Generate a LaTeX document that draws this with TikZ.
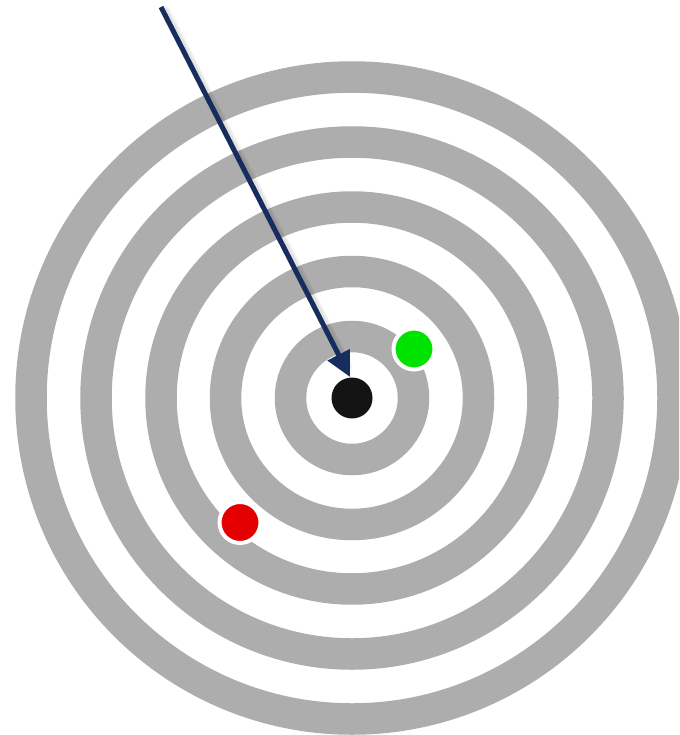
\documentclass[tikz,border=0pt]{standalone}
\usetikzlibrary{arrows.meta}
\definecolor{ringgray}{RGB}{173,173,173}
\definecolor{navy}{RGB}{22,45,94}
\definecolor{dotgreen}{RGB}{0,226,0}
\definecolor{dotred}{RGB}{228,0,0}
\definecolor{dotblack}{RGB}{20,20,20}
\tikzset{
  ring/.style={draw=ringgray, line width=31.5pt},
  dot/.style={circle, inner sep=0pt, minimum size=41pt, draw=white, line width=4pt},
  arrowline/.style={draw=navy, line width=5pt, -{Triangle[length=25pt,width=24pt]}},
  arrowshadow/.style={draw=black, opacity=0.06, line width=#1, line cap=round}
}
\begin{document}
\begin{tikzpicture}[x=1pt,y=-1pt]
\useasboundingbox (0,0) rectangle (679,735);
\clip (0,0) rectangle (679,735);
\coordinate (c) at (352,398);
\foreach \r in {321,256,191,126.5,61.5} {
  \draw[ring] (c) circle[radius=\r];
}
\node[dot, fill=dotgreen] (green) at (414,349) {};
\node[dot, fill=dotred] (red) at (240,522.5) {};
\node[circle, inner sep=0pt, minimum size=41pt, fill=dotblack] (bull) at (c) {};
\coordinate (start) at (161,7);
\coordinate (tip) at (350,377);
\coordinate (sstart) at (165,11);
\coordinate (stip) at (347,366);
\draw[arrowshadow=10pt] (sstart) -- (stip);
\draw[arrowshadow=6pt] (sstart) -- (stip);
\draw[arrowline] (start) -- (tip);
\end{tikzpicture}
\end{document}
